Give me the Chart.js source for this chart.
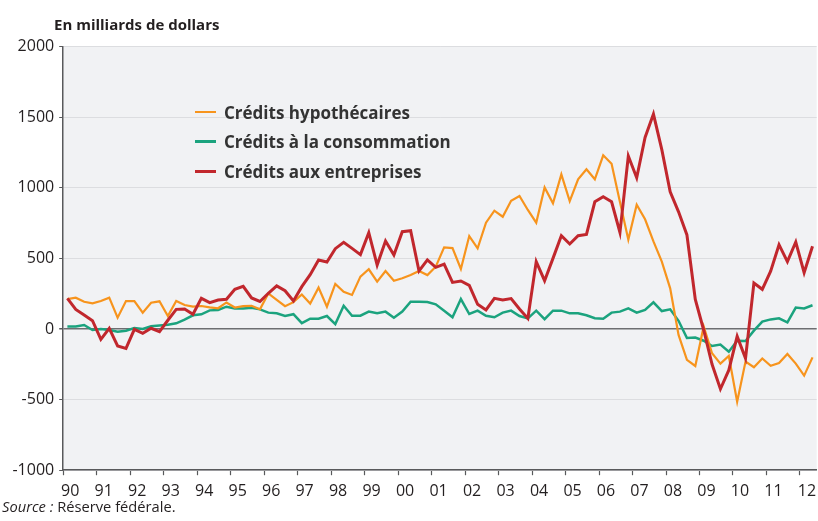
<!DOCTYPE html>
<html lang="fr">
<head>
<meta charset="utf-8">
<script src="https://cdn.jsdelivr.net/npm/chart.js@4.4.1/dist/chart.umd.min.js"></script>
<style>
    body { margin: 0; background: #fff; }
    #cadre { position: relative; width: 818px; height: 521px; font-family: "Open Sans", sans-serif; color: #231f20; }
    #titre { position: absolute; left: 54px; top: 16.7px; font-size: 15px; line-height: 1; font-weight: bold; white-space: nowrap; }
    #source { position: absolute; left: 2px; top: 499px; font-size: 14.7px; line-height: 1; white-space: nowrap; }
    #legende { position: absolute; left: 195px; top: 102px; }
    .ligne { display: flex; align-items: center; height: 20px; margin-bottom: 9.5px; font-size: 17px; font-weight: bold; color: #333; white-space: nowrap; }
    .trait { display: inline-block; width: 21px; margin-right: 8px; }
    canvas { position: absolute; left: 0; top: 0; }
</style>
</head>
<body>
<div id="cadre">
    <canvas id="graphique" width="818" height="521"></canvas>
    <div id="titre">En milliards de dollars</div>
    <div id="legende"></div>
    <div id="source"><i>Source :</i> Réserve fédérale.</div>
</div>
<script>
// données trimestrielles, 1990T1 - 2012T2
var debut = 1990;
var etiquettesX = ['90', '91', '92', '93', '94', '95', '96', '97', '98', '99', '00', '01',
    '02', '03', '04', '05', '06', '07', '08', '09', '10', '11', '12'];
var graduationsY = [-1000, -500, 0, 500, 1000, 1500, 2000];

var hypothecaires = [
    212, 222, 193, 182, 198, 222, 80, 198, 198, 116,
    186, 196, 92, 198, 170, 158, 163, 153, 147, 188,
    152, 162, 164, 139, 252, 207, 162, 190, 244, 180,
    293, 158, 319, 264, 241, 371,
    423, 335, 411, 342, 359, 382, 411, 382, 441, 578,
    573, 425, 658, 571, 753, 838, 795, 908,
    942, 843, 753, 1003, 890, 1095, 906, 1060, 1131, 1060, 1230, 1170,
    900, 633, 880, 777, 620, 477,
    288, -42, -219, -262, 18, -172, -245, -191, -515, -231, -271, -209, -261, -241, -177, -245, -330, -201
];

var consommation = [
    17, 17, 28, -7, 0, -7, -20, -12, 7, 0,
    19, 25, 30, 40, 66, 97, 104, 132, 135, 158,
    146, 146, 151, 139, 116, 111, 93, 105, 41, 73,
    73, 92, 35, 165, 94, 94,
    123, 111, 123, 80, 123, 193, 193, 191, 175, 130,
    83, 212, 106, 130, 94, 83, 116, 130,
    92, 75, 130, 70, 130, 130, 111, 111, 97, 76, 73, 116,
    123, 146, 116, 135, 189, 127,
    139, 58, -64, -61, -83, -120, -110, -161, -83, -85, -12, 52, 68, 76, 47, 152, 146, 168
];

var entreprises = [
    217, 139, 99, 59, -73, 5, -120, -137, -2, -31,
    5, -19, 62, 139, 142, 104, 217, 187, 205, 211,
    281, 302, 220, 195, 253, 305, 271, 199, 300, 385,
    489, 474, 569, 614, 571, 527,
    682, 453, 623, 524, 689, 696, 411, 489, 437, 460,
    330, 340, 309, 175, 135, 217, 205, 215,
    142, 75, 477, 342, 500, 661, 602, 661, 670, 901, 937, 901,
    684, 1225, 1071, 1357, 1522, 1270,
    972, 830, 666, 210, -7, -250, -425, -292, -52, -208, 325, 281, 410, 597, 477, 616, 399, 586
];

var series = [
    { nom: 'Crédits hypothécaires', valeurs: hypothecaires, couleur: '#f7941d', epaisseur: 2.2, ordre: 1 },
    { nom: 'Crédits à la consommation', valeurs: consommation, couleur: '#1ba37e', epaisseur: 2.5, ordre: 2 },
    { nom: 'Crédits aux entreprises', valeurs: entreprises, couleur: '#c1272d', epaisseur: 3, ordre: 0 }
];

// point au milieu de chaque trimestre
var pointsDe = function (valeurs) {
    return valeurs.map(function (v, i) {
        return { x: debut + (i + 0.5) / 4, y: v };
    });
};

// légende html
var legende = document.getElementById('legende');
series.forEach(function (s) {
    var ligne = document.createElement('div');
    ligne.className = 'ligne';
    var trait = document.createElement('span');
    trait.className = 'trait';
    trait.style.background = s.couleur;
    trait.style.height = s.epaisseur + 'px';
    ligne.appendChild(trait);
    ligne.appendChild(document.createTextNode(s.nom));
    legende.appendChild(ligne);
});

var fondGris = {
    id: 'fondGris',
    beforeDraw: function (chart) {
        var ctx = chart.ctx, a = chart.chartArea;
        ctx.save();
        ctx.fillStyle = '#f1f2f4';
        ctx.fillRect(a.left, a.top, a.right - a.left, a.bottom - a.top);
        ctx.restore();
    }
};

var police = { family: "'Open Sans', sans-serif", size: 16 };

new Chart(document.getElementById('graphique'), {
    type: 'line',
    data: {
        datasets: series.map(function (s) {
            return {
                label: s.nom,
                data: pointsDe(s.valeurs),
                borderColor: s.couleur,
                borderWidth: s.epaisseur,
                pointRadius: 0,
                tension: 0,
                order: s.ordre
            };
        })
    },
    options: {
        responsive: false,
        animation: false,
        layout: {
            padding: { top: 46.6, right: 1.3, bottom: 0, left: 0 }
        },
        plugins: {
            legend: { display: false },
            tooltip: { enabled: false }
        },
        scales: {
            x: {
                type: 'linear',
                min: 1990,
                max: 2012.5,
                afterBuildTicks: function (s) {
                    s.ticks = etiquettesX.map(function (e, k) { return { value: debut + k }; });
                },
                afterFit: function (s) { s.height = 50.8; },
                ticks: {
                    callback: function (v, i) { return etiquettesX[i]; },
                    labelOffset: 7,
                    padding: 7,
                    maxRotation: 0,
                    autoSkip: false,
                    font: police,
                    color: '#231f20'
                },
                grid: {
                    drawOnChartArea: false,
                    tickLength: 5,
                    tickColor: '#58595b',
                    tickWidth: 1.2
                },
                border: { color: '#58595b', width: 1.5 }
            },
            y: {
                min: -1000,
                max: 2000,
                afterBuildTicks: function (s) {
                    s.ticks = graduationsY.map(function (v) { return { value: v }; });
                },
                afterFit: function (s) { s.width = 63.2; },
                ticks: {
                    callback: function (v) { return String(v); },
                    padding: 5,
                    font: police,
                    color: '#231f20'
                },
                grid: {
                    color: function (c) { return c.tick && c.tick.value === 0 ? '#6d6e71' : '#dcdde0'; },
                    lineWidth: function (c) { return c.tick && c.tick.value === 0 ? 1.5 : 1; },
                    tickLength: 4,
                    tickColor: '#58595b'
                },
                border: { color: '#58595b', width: 1.5 }
            }
        }
    },
    plugins: [fondGris]
});
</script>
</body>
</html>
